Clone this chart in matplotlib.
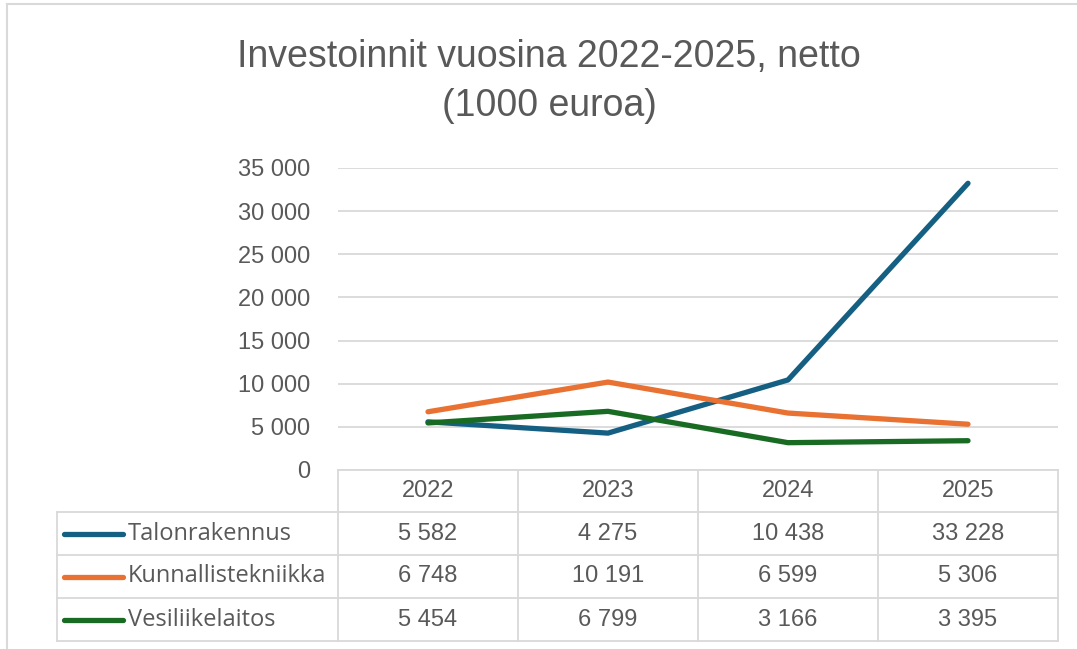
import matplotlib.pyplot as plt
from matplotlib.lines import Line2D
import matplotlib.transforms as mtransforms

# Data (1000 euroa)
years = ['2022', '2023', '2024', '2025']
talonrakennus = [5582, 4275, 10438, 33228]
kunnallistekniikka = [6748, 10191, 6599, 5306]
vesiliikelaitos = [5454, 6799, 3166, 3395]
series_names = ['Talonrakennus', 'Kunnallistekniikka', 'Vesiliikelaitos']
y_ticks = [0, 5000, 10000, 15000, 20000, 25000, 30000, 35000]

colors = ['#156082', '#E97132', '#196B24']
text_color = '#595959'
grid_color = '#d9d9d9'
num_font = ['Liberation Sans', 'DejaVu Sans']
title_font = ['Liberation Sans Narrow', 'Liberation Sans', 'DejaVu Sans']


def fmt(v):
    return f'{v:,}'.replace(',', ' ')


W, H = 1077, 649
fig = plt.figure(figsize=(W / 100, H / 100), dpi=100)

# chart frame (top and left edges visible)
fig.add_artist(Line2D([7 / W, 7 / W], [0, 1 - 4 / H], transform=fig.transFigure,
                      color='#d9d9d9', lw=1.5))
fig.add_artist(Line2D([7 / W, 1], [1 - 4 / H, 1 - 4 / H], transform=fig.transFigure,
                      color='#d9d9d9', lw=1.5))

left, right, top, bottom = 338, 1058, 168, 470
ax = fig.add_axes([left / W, 1 - bottom / H, (right - left) / W, (bottom - top) / H])

x = range(len(years))
for vals, c in zip([talonrakennus, kunnallistekniikka, vesiliikelaitos], colors):
    ax.plot(x, vals, color=c, lw=3.8, solid_capstyle='round', solid_joinstyle='round',
            zorder=3)

ax.set_xlim(-0.5, len(years) - 0.5)
ax.set_ylim(0, 35000)
ax.set_yticks(y_ticks)
ax.set_yticklabels([fmt(v) for v in y_ticks], fontsize=17, color=text_color,
                   family=num_font)
ax.set_xticks([])
ax.tick_params(axis='y', length=0, pad=20)
for s in ax.spines.values():
    s.set_visible(False)
ax.grid(axis='y', color=grid_color, lw=1.3)
ax.set_axisbelow(True)

fig.text(549 / W, 1 - 57 / H, 'Investoinnit vuosina 2022-2025, netto', ha='center',
         va='center', fontsize=27, color=text_color, family=title_font)
fig.text(549 / W, 1 - 106 / H, '(1000 euroa)', ha='center', va='center', fontsize=27,
         color=text_color, family=title_font)

# data table below the plot: x in data coords, y in figure fraction
trans = mtransforms.blended_transform_factory(ax.transData, fig.transFigure)
row_edges = [470, 512, 555, 598, 641]
ry = [1 - r / H for r in row_edges]
px_per_unit = (right - left) / len(years)
x_leg = -0.5 - (left - 57) / px_per_unit
line_kw = dict(transform=trans, color=grid_color, lw=1.3, clip_on=False)

# horizontal lines
ax.add_line(Line2D([-0.5, len(years) - 0.5], [ry[0], ry[0]], **line_kw))
for yy in ry[1:]:
    ax.add_line(Line2D([x_leg, len(years) - 0.5], [yy, yy], **line_kw))
# vertical lines
for i in range(len(years) + 1):
    xv = i - 0.5
    ax.add_line(Line2D([xv, xv], [ry[0], ry[-1]], **line_kw))
ax.add_line(Line2D([x_leg, x_leg], [ry[1], ry[-1]], **line_kw))

# header
for i, yr in enumerate(years):
    ax.text(i, (ry[0] + ry[1]) / 2, yr, transform=trans, ha='center', va='center',
            fontsize=17, color=text_color, family=num_font)

# rows
all_vals = [talonrakennus, kunnallistekniikka, vesiliikelaitos]
for r, (name, vals, c) in enumerate(zip(series_names, all_vals, colors)):
    yc = (ry[r + 1] + ry[r + 2]) / 2
    x0 = x_leg + 7 / px_per_unit
    x1 = x_leg + 66 / px_per_unit
    ax.add_line(Line2D([x0, x1], [yc, yc], transform=trans, color=c, lw=3.8,
                       solid_capstyle='round', clip_on=False))
    ax.text(x_leg + 71 / px_per_unit, yc, name, transform=trans, ha='left', va='center',
            fontsize=17, color=text_color, family=['Open Sans', 'DejaVu Sans'])
    for i, v in enumerate(vals):
        ax.text(i, yc, fmt(v), transform=trans, ha='center', va='center',
                fontsize=17, color=text_color, family=num_font)

fig.savefig('out.png', dpi=100)
